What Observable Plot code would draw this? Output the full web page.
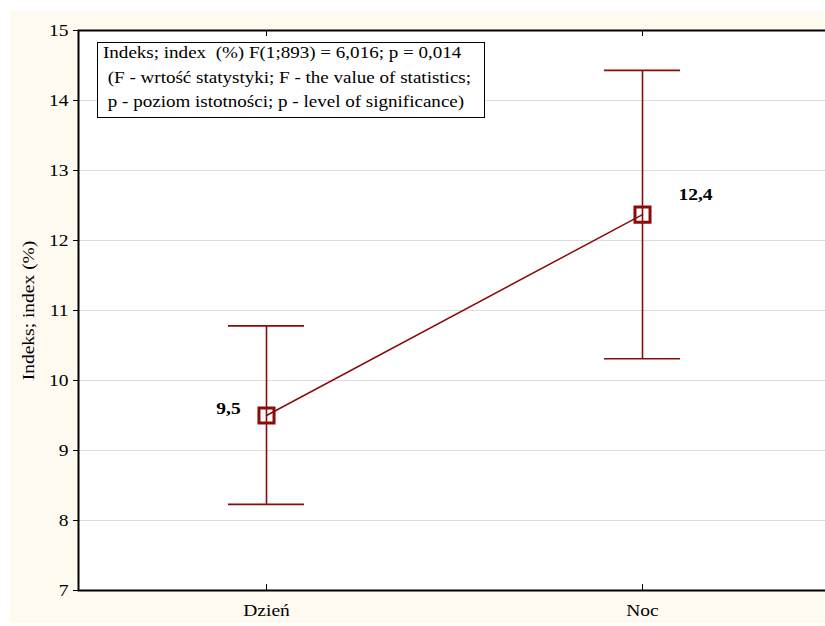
<!DOCTYPE html>
<html>
<head>
<meta charset="utf-8">
<script src="https://cdn.jsdelivr.net/npm/d3@7"></script>
<script src="https://cdn.jsdelivr.net/npm/@observablehq/plot@0.6"></script>
<style>
  html, body { margin: 0; padding: 0; background: #ffffff; overflow: hidden; width: 825px; height: 626px; }
  #wrap { position: absolute; left: 10px; top: 11px; width: 830px; height: 612px; background: #fffaf0; }
  #legend { position: absolute; left: 87px; top: 31px; width: 386px; height: 74px; border: 1.5px solid #000; background: #fff; overflow: hidden;
    font-family: "Liberation Serif", "Times New Roman", serif; font-size: 16px; line-height: 24.5px; white-space: pre; color: #000; }
  #legend .inner { position: absolute; left: 5px; top: -2px; transform: scaleX(1.19); transform-origin: 0 0; }
</style>
</head>
<body>
<div id="wrap"></div>
<script>
const categories = ["Dzień", "Noc"];
const means = [9.5, 12.37];
const lower = [8.23, 10.31];
const upper = [10.78, 14.43];
const meanLabels = ["9,5", "12,4"];
const yTicks = [7, 8, 9, 10, 11, 12, 13, 14, 15];
const yLabel = "Indeks; index (%)";
const legendLines = [
  "Indeks; index  (%) F(1;893) = 6,016; p = 0,014",
  " (F - wrtość statystyki; F - the value of statistics;",
  " p - poziom istotności; p - level of significance)"
];

const data = categories.map((c, i) => ({cat: c, mean: means[i], lo: lower[i], hi: upper[i], label: meanLabels[i]}));
const red = "#8b0a0a";
const font = "'Liberation Serif', 'Times New Roman', serif";
const stretch = 1.22;

const chart = Plot.plot({
  width: 830,
  height: 612,
  marginLeft: 68,
  marginRight: 10,
  marginTop: 19,
  marginBottom: 33,
  style: {fontFamily: font, fontSize: "16px", background: "transparent", color: "#000"},
  x: {type: "band", domain: categories, paddingInner: 0.798, paddingOuter: 0.399, label: null},
  y: {domain: [7, 15], label: null},
  marks: [
    Plot.frame({fill: "white", stroke: null}),
    Plot.gridY(yTicks, {stroke: "#dcdcdc", strokeOpacity: 1, strokeWidth: 1}),
    Plot.ruleX(data, {x: "cat", y1: "lo", y2: "hi", stroke: red, strokeWidth: 1.6}),
    Plot.tickY(data, {x: "cat", y: "lo", stroke: red, strokeWidth: 1.6}),
    Plot.tickY(data, {x: "cat", y: "hi", stroke: red, strokeWidth: 1.6}),
    Plot.line(data, {x: "cat", y: "mean", stroke: red, strokeWidth: 1.5}),
    Plot.dot(data, {x: "cat", y: "mean", symbol: "square", r: 8.5, stroke: red, strokeWidth: 3, fill: "none"}),
    Plot.text(data.filter(d => d.cat === categories[0]), {x: "cat", y: "mean", text: "label", dx: -38, dy: -7, fontWeight: "bold", fontSize: 16}),
    Plot.text(data.filter(d => d.cat === categories[1]), {x: "cat", y: "mean", text: "label", dx: 53, dy: -20, fontWeight: "bold", fontSize: 16}),
    Plot.axisY({ticks: yTicks, tickSize: 5, tickPadding: 5, fontSize: 16, label: yLabel, labelAnchor: "center", labelOffset: 56, labelArrow: "none"}),
    Plot.axisX({anchor: "bottom", tickSize: -6, tickPadding: 20, fontSize: 16, label: null}),
    Plot.axisX({anchor: "top", tickSize: -5, tickFormat: () => "", label: null}),
    Plot.frame({stroke: "#000", strokeWidth: 2})
  ]
});

// widen glyphs horizontally around each text's anchor, like the reference's stretched Times text
chart.querySelectorAll("text").forEach(t => {
  let tr = t.getAttribute("transform");
  if (!tr) {
    const x = t.getAttribute("x") || 0, y = t.getAttribute("y") || 0;
    t.removeAttribute("x"); t.removeAttribute("y");
    tr = `translate(${x},${y})`;
  }
  t.setAttribute("transform", tr + ` scale(${stretch},1)`);
});

const wrap = document.getElementById("wrap");
wrap.appendChild(chart);
const legend = document.createElement("div");
legend.id = "legend";
const inner = document.createElement("div");
inner.className = "inner";
inner.textContent = legendLines.join("\n");
legend.appendChild(inner);
wrap.appendChild(legend);
</script>
</body>
</html>
